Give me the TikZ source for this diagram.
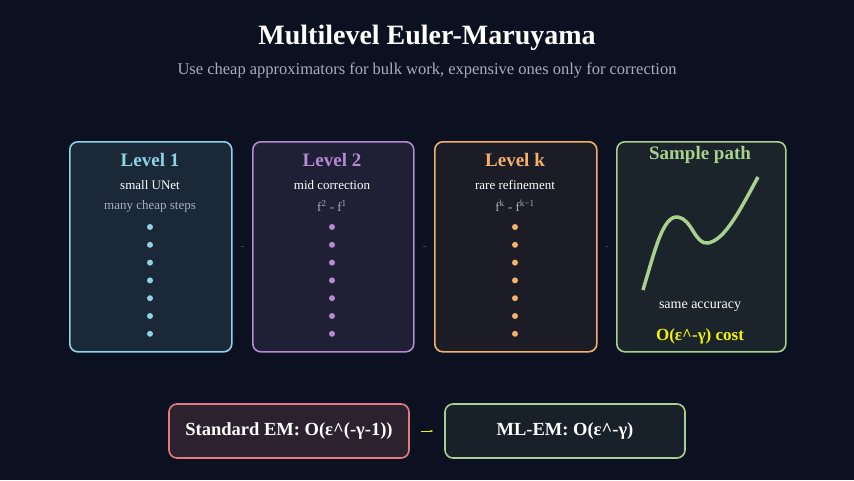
\documentclass[tikz,border=0pt]{standalone}
\usepackage{fontspec}
\setmainfont{Liberation Serif}
\usepackage{tikz}
\usetikzlibrary{arrows.meta}
\definecolor{bg}{HTML}{0B1120}
\definecolor{cyanL}{HTML}{8FD3E6}
\definecolor{purpL}{HTML}{B48AD0}
\definecolor{orngL}{HTML}{F5B06A}
\definecolor{grnL}{HTML}{A9D18E}
\definecolor{redL}{HTML}{E77B7B}
\definecolor{subgrey}{HTML}{A8AEBC}
\definecolor{ylw}{HTML}{F2F20A}
\tikzset{
  panel/.style={draw=#1,line width=1.6pt,rounded corners=8pt,anchor=north west},
  ttl/.style={font=\bfseries\fontsize{19}{21}\selectfont},
  txt/.style={font=\fontsize{13}{15}\selectfont,text=white},
  sub/.style={font=\fontsize{13}{15}\selectfont,text=subgrey},
  cost/.style={draw=#1,line width=1.6pt,rounded corners=8pt,font=\bfseries\fontsize{18.5}{20}\selectfont,text=white},
  link/.style={gray!45!bg,line width=0.8pt,shorten <=8pt,shorten >=8pt}
}
\begin{document}
\begin{tikzpicture}[x=1pt,y=-1pt]
\fill[bg] (0,0) rectangle (854,480);
\useasboundingbox (0,0) rectangle (854,480);
\node[text=white,font=\bfseries\fontsize{28}{32}\selectfont] (title) at (427,38) {Multilevel Euler-Maruyama};
\node[text=subgrey,font=\fontsize{16.5}{18}\selectfont] (subtitle) at (427,70) {Use cheap approximators for bulk work, expensive ones only for correction};
% level panels
\node[panel=cyanL,fill=cyanL!12!bg,minimum width=162,minimum height=210] (L1) at (69,141) {};
\node[panel=purpL,fill=purpL!12!bg,minimum width=161,minimum height=210] (L2) at (252,141) {};
\node[panel=orngL,fill=orngL!7!bg,minimum width=162,minimum height=210] (Lk) at (434,141) {};
\node[panel=grnL,fill=grnL!10!bg,minimum width=169,minimum height=210] (S) at (616,141) {};
\node[ttl,text=cyanL] (L1t) at (150,160) {Level 1};
\node[txt] at (150,185) {small UNet};
\node[sub] at (150,206) {many cheap steps};
\node[ttl,text=purpL] (L2t) at (332,160) {Level 2};
\node[txt] at (332,185) {mid correction};
\node[sub] at (332,206) {f\textsuperscript{2} - f\textsuperscript{1}};
\node[ttl,text=orngL] (Lkt) at (515,160) {Level k};
\node[txt] at (515,185) {rare refinement};
\node[sub] at (515,206) {f\textsuperscript{k} - f\textsuperscript{k−1}};
\foreach \i in {0,...,6} {
  \fill[cyanL] (150,227+17.8*\i) circle (3);
  \fill[purpL] (332,227+17.8*\i) circle (3);
  \fill[orngL] (515,227+17.8*\i) circle (3);
}
\draw[link] (L1) -- (L2);
\draw[link] (L2) -- (Lk);
\draw[link] (Lk) -- (S);
% sample path
\node[ttl,text=grnL] (St) at (700,155) {Sample path};
\draw[grnL,line width=3.5pt] (643,290) .. controls (655,250) and (663,215) .. (678,217)
  .. controls (692,219) and (695,245) .. (708,243) .. controls (725,240) and (740,210) .. (758,177);
\node[txt,font=\fontsize{14}{16}\selectfont] at (700,307) {same accuracy};
\node[text=ylw,font=\bfseries\fontsize{17}{19}\selectfont] at (700,336) {O(ε\^{}-γ) cost};
% bottom comparison
\node[cost=redL,fill=redL!15!bg,minimum width=240,minimum height=54] (std) at (289,431) {Standard EM: O(ε\^{}(-γ-1))};
\node[cost=grnL,fill=grnL!8!bg,minimum width=240,minimum height=54] (ml) at (565,431) {ML-EM: O(ε\^{}-γ)};
\draw[ylw,line width=0.8pt,shorten <=11pt,shorten >=11pt,-{Stealth[length=3pt]}] (std) -- (ml);
\end{tikzpicture}
\end{document}
